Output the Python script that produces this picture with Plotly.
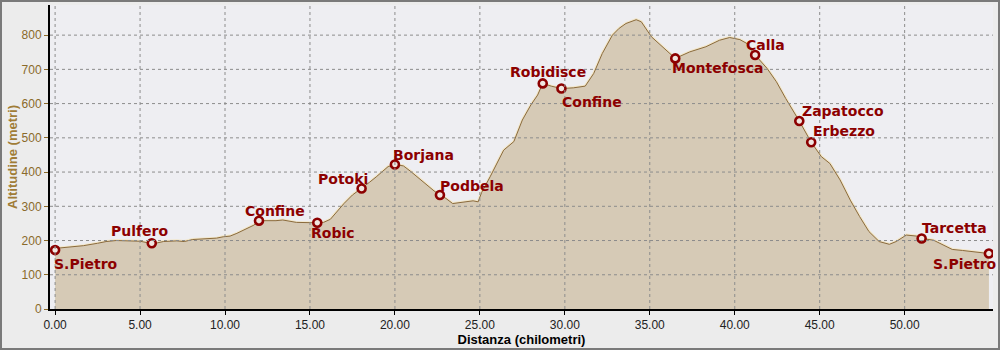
import plotly.graph_objects as go

# ---- profile data (km, metres) ----
dist_km = [0.0, 0.8, 1.67, 2.5, 3.0, 3.6, 4.3, 5.0, 5.4, 5.69, 6.0, 6.37, 7.16, 7.6, 8.1, 8.9, 9.5,
           9.9, 10.3, 10.7, 11.3, 11.7, 12.0, 12.5, 13.0, 13.4, 13.8, 14.2, 15.2, 15.43, 15.8, 16.2,
           16.5, 16.8, 17.0, 17.5, 18.04, 18.5, 18.9, 19.3, 19.6, 20.0, 20.5, 20.9, 21.3, 21.96,
           22.3, 22.65, 23.0, 23.4, 24.0, 24.6, 24.9, 25.1, 25.6, 26.2, 26.4, 27.0, 27.5, 28.0,
           28.4, 28.7, 29.2, 29.8, 30.5, 31.2, 31.7, 32.2, 32.8, 33.2, 33.6, 34.2, 34.5, 35.1,
           35.6, 36.3, 36.5, 37.35, 38.3, 39.1, 39.7, 40.3, 40.7, 41.2, 41.9, 42.45, 43.0, 43.8,
           44.5, 45.1, 45.6, 46.2, 46.8, 47.35, 47.9, 48.5, 49.1, 49.5, 50.1, 50.7, 51.0, 51.7,
           52.3, 52.8, 53.4, 54.0, 54.96]
alt_m = [177, 181, 185, 192, 197, 200, 199, 198, 194, 192, 193, 197, 199, 197, 203, 206, 207,
         211, 213, 221, 236, 245, 258, 257, 258, 260, 257, 253, 252, 252, 253, 262,
         279, 296, 308, 333, 352, 370, 386, 403, 416, 422, 418, 403, 386, 359,
         345, 333, 323, 308, 313, 316, 313, 340, 386, 445, 464, 489, 552, 596,
         625, 659, 651, 644, 646, 651, 688, 746, 800, 820, 834, 845, 839, 795,
         773, 742, 732, 751, 766, 785, 793, 787, 776, 742, 703, 664, 615, 549,
         487, 445, 425, 377, 318, 270, 226, 197, 189, 197, 216, 213, 206, 201,
         187, 174, 171, 168, 162]

# ---- waypoints ----
wp_names = ["S.Pietro", "Pulfero", "Confine", "Robic", "Potoki", "Borjana", "Podbela",
            "Robidisce", "Confine", "Montefosca", "Calla", "Zapatocco", "Erbezzo",
            "Tarcetta", "S.Pietro"]
wp_km = [0.0, 5.69, 12.0, 15.43, 18.04, 20.0, 22.65, 28.7, 29.8, 36.5, 41.2, 43.8, 44.5, 51.0, 54.96]
wp_alt = [172, 192, 258, 252, 352, 422, 333, 659, 644, 732, 742, 549, 487, 206, 162]

x_ticks = [0, 5, 10, 15, 20, 25, 30, 35, 40, 45, 50]
y_ticks = [0, 100, 200, 300, 400, 500, 600, 700, 800]

# label offsets in pixels (text left edge dx, centre dy; +dy = downwards)
label_offsets = [(-3, 14), (-43, -12), (-16, -10), (-8, 10), (-46, -10), (-4, -10), (-2, -9),
                 (-35, -11), (-1, 13), (-5, 10), (-11, -10), (1, -10), (0, -11), (-2, -10),
                 (-58, 10)]

RED = "#8C0000"
fig = go.Figure()
# halo
fig.add_trace(go.Scatter(x=dist_km, y=alt_m, mode="lines",
                         line=dict(color="#F2E6C8", width=3), hoverinfo="skip"))
fig.add_trace(go.Scatter(x=dist_km, y=alt_m, mode="lines", fill="tozeroy",
                         fillcolor="#D6CAB6", line=dict(color="#8A6A3C", width=1),
                         hoverinfo="skip"))

shapes = []
for xv in x_ticks:
    shapes.append(dict(type="line", xref="x", yref="paper", x0=xv, x1=xv, y0=0, y1=1,
                       line=dict(color="#8C8C8C", width=1, dash="dot"), layer="above"))
for yv in y_ticks[1:]:
    shapes.append(dict(type="line", xref="paper", yref="y", x0=0, x1=1, y0=yv, y1=yv,
                       line=dict(color="#8C8C8C", width=1, dash="dot"), layer="above"))
# outer frame
L, R, T, B = 50, 7, 5, 41
pw, ph = 1000 - L - R, 350 - T - B
shapes.append(dict(type="rect", xref="paper", yref="paper",
                   x0=-(L - 1) / pw, x1=(pw + R - 1) / pw, y0=-(B - 1) / ph, y1=(ph + T - 1) / ph,
                   line=dict(color="#7A7A7A", width=2), layer="above"))

fig.add_trace(go.Scatter(x=wp_km, y=wp_alt, mode="markers",
                         marker=dict(symbol="circle", size=8, color="#F0E6E0",
                                     line=dict(color=RED, width=2.6)),
                         hoverinfo="skip"))

annotations = []
for name, xk, ya, (dx, dy) in zip(wp_names, wp_km, wp_alt, label_offsets):
    annotations.append(dict(x=xk, y=ya, xref="x", yref="y", text=name, showarrow=False,
                            xanchor="left", yanchor="middle", xshift=dx, yshift=-dy,
                            font=dict(family="DejaVu Sans", size=14, color=RED, weight="bold")))

fig.update_layout(
    width=1000, height=350,
    margin=dict(l=L, r=R, t=T, b=B),
    paper_bgcolor="#ECECEC", plot_bgcolor="#EEEEF2",
    showlegend=False,
    shapes=shapes, annotations=annotations,
    xaxis=dict(range=[-0.3, 55.2], tickvals=x_ticks, tickformat=".2f",
               showgrid=False, zeroline=False, showline=True, linecolor="black", linewidth=2,
               ticks="outside", ticklen=4, tickcolor="black",
               tickfont=dict(family="Liberation Sans", size=12, color="#222222"),
               title=dict(text="Distanza (chilometri)", standoff=0,
                          font=dict(family="Liberation Sans", size=13, color="black", weight="bold"))),
    yaxis=dict(range=[0, 888], tickvals=y_ticks,
               showgrid=False, zeroline=False, showline=True, linecolor="black", linewidth=2,
               ticks="outside", ticklen=4, tickcolor="#8A6A2A",
               tickfont=dict(family="Liberation Sans", size=12, color="#8A6A2A"),
               title=dict(text="Altitudine (metri)", standoff=1,
                          font=dict(family="Liberation Sans", size=13, color="#A07C36", weight="bold"))),
)

fig.write_html("out.html")
